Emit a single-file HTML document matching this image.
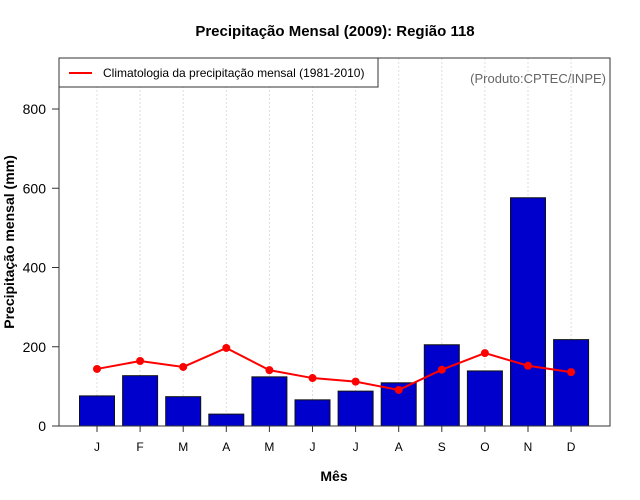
<!DOCTYPE html>
<html><head><meta charset="utf-8"><style>body{margin:0;background:#fff}svg{display:block;font-family:"Liberation Sans",sans-serif}</style></head>
<body>
<svg width="640" height="500">
<text x="335" y="36" text-anchor="middle" font-size="15" font-weight="bold">Precipitação Mensal (2009): Região 118</text>
<g id="grid"></g>
<g id="bars"></g>
<g id="line"></g>
<rect x="59" y="58" width="551" height="368" fill="none" stroke="#333" stroke-width="1"/>
<g id="yaxis"></g>
<g id="xaxis"></g>
<g>
<rect x="59" y="58" width="319" height="29" fill="#fff" stroke="#333"/>
<line x1="69" y1="73" x2="92" y2="73" stroke="#f00" stroke-width="2"/>
<text x="103" y="77" font-size="12">Climatologia da precipitação mensal (1981-2010)</text>
</g>
<text x="606" y="83" text-anchor="end" font-size="13" fill="#666">(Produto:CPTEC/INPE)</text>
<text x="334" y="481" text-anchor="middle" font-size="14" font-weight="bold">Mês</text>
<text transform="translate(14,242) rotate(-90)" text-anchor="middle" font-size="14" font-weight="bold">Precipitação mensal (mm)</text>
</svg>
<script>
const months=["J","F","M","A","M","J","J","A","S","O","N","D"];
const observed=[76,127,74,30,124,66,88,109,205,139,576,218];
const climatology=[144,164,149,197,141,121,112,91,142,184,152,136];
const yTicks=[0,200,400,600,800];
const NS="http://www.w3.org/2000/svg";
const y=v=>426-v*0.39625;
const x=i=>97+i*43.1;
function mk(t,a,p){const e=document.createElementNS(NS,t);for(const k in a)e.setAttribute(k,a[k]);document.getElementById(p).appendChild(e);return e;}
months.forEach((m,i)=>{
 const g=mk('line',{x1:x(i),x2:x(i),y1:58,y2:426,stroke:'#ddd','stroke-dasharray':'2,2'},'grid');
 
 
 const b=mk('rect',{x:x(i)-17.5,y:y(observed[i]),width:35,height:426-y(observed[i]),fill:'#0000cd',stroke:'#111','stroke-width':1},'bars');
 
 
 const t=mk('line',{x1:x(i),x2:x(i),y1:426,y2:432,stroke:'#333'},'xaxis');
 
 
 const l=mk('text',{x:x(i),y:451,'text-anchor':'middle','font-size':12},'xaxis');l.textContent=m;
 
 
});
const pl=mk('polyline',{points:climatology.map((v,i)=>x(i)+','+y(v)).join(' '),fill:'none',stroke:'#f00','stroke-width':2},'line');


climatology.forEach((v,i)=>{const c=mk('circle',{cx:x(i),cy:y(v),r:4,fill:'#f00'},'line');
 
 });
yTicks.forEach(v=>{
 const t=mk('line',{x1:52,x2:59,y1:y(v),y2:y(v),stroke:'#333'},'yaxis');
 
 
 const l=mk('text',{x:46,y:y(v)+5,'text-anchor':'end','font-size':14},'yaxis');l.textContent=v;
 
 
});
</script>
</body></html>
